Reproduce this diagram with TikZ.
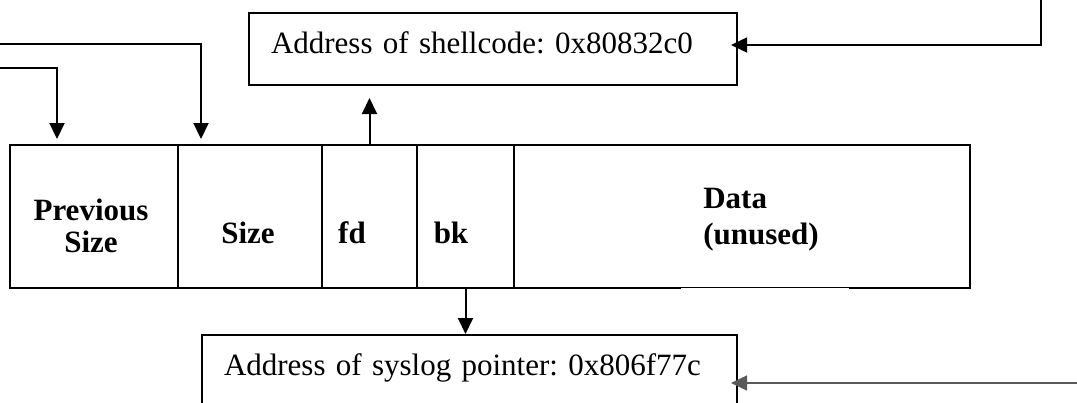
\documentclass[tikz,border=0pt]{standalone}
\usepackage{fontspec}
\setmainfont{Liberation Serif}
\usetikzlibrary{arrows.meta}
\frenchspacing

\begin{document}
\begin{tikzpicture}[x=1pt,y=-1pt,->,>={Triangle[length=16pt,width=15pt]},line width=2pt,
  cell/.style={draw,minimum height=143pt,inner sep=0pt,anchor=north west},
  addr box/.style={draw,align=left,inner xsep=22pt,inner ysep=0pt,anchor=north west,
    text height=40pt,text depth=32pt,font=\fontsize{31}{37}\selectfont},
  field/.style={font=\fontsize{31}{37}\selectfont\bfseries,anchor=base}]
\useasboundingbox (0,0) rectangle (1077,402);

% address boxes
  \node[addr box,text width=444pt] (shell) at (248,12) {Address of shellcode: 0x80832c0};
  \node[addr box,text width=491pt] (syslog) at (201,334) {Address of syslog pointer: 0x806f77c};

% chunk cells
  \node[cell,minimum width=168pt] (prev) at (9,144) {};
  \node[cell,minimum width=144pt] (size) at (177,144) {};
  \node[cell,minimum width=95pt] (fd) at (321,144) {};
  \node[cell,minimum width=97pt] (bk) at (416,144) {};
  \node[cell,minimum width=456pt] (data) at (513,144) {};
  \draw[-,white,line width=1pt] (681,288) -- (849,288);

% cell texts
  \node[field] (prevtxt) at (91,220) {Previous};
  \node[field] (prevtxt2) at (91,252) {Size};
  \node[field] (sizetxt) at (248,243) {Size};
  \node[field] (fdtxt) at (352,243) {fd};
  \node[field] (bktxt) at (451,243) {bk};
  \node[field,anchor=base west] (datatxt) at (699,208) {Data};
  \node[field,anchor=base west] (datatxt2) at (699,244) {(unused)};

% free ends
  \coordinate (in1) at (0,44);
  \coordinate (in2) at (0,68);
  \coordinate (in3) at (1041,0);
  \coordinate (in4) at (1077,383);

% connectors
  \draw[shorten >=5pt] (in1) -| ([xshift=24pt]size.north west);
  \draw[shorten >=5pt] (in2) -| ([xshift=48pt]prev.north west);
  \draw[shorten >=12pt] (fd.north) -- (fd.north |- shell.south);
  \draw (bk.south) -- (bk.south |- syslog.north);
  \draw[line width=1.5pt] (in3) |- ([shift={(-7,-4)}]shell.east);
  \draw[line width=1.5pt,black!65] (in4) -- ([xshift=-7pt]syslog.east |- in4);

\end{tikzpicture}
\end{document}
